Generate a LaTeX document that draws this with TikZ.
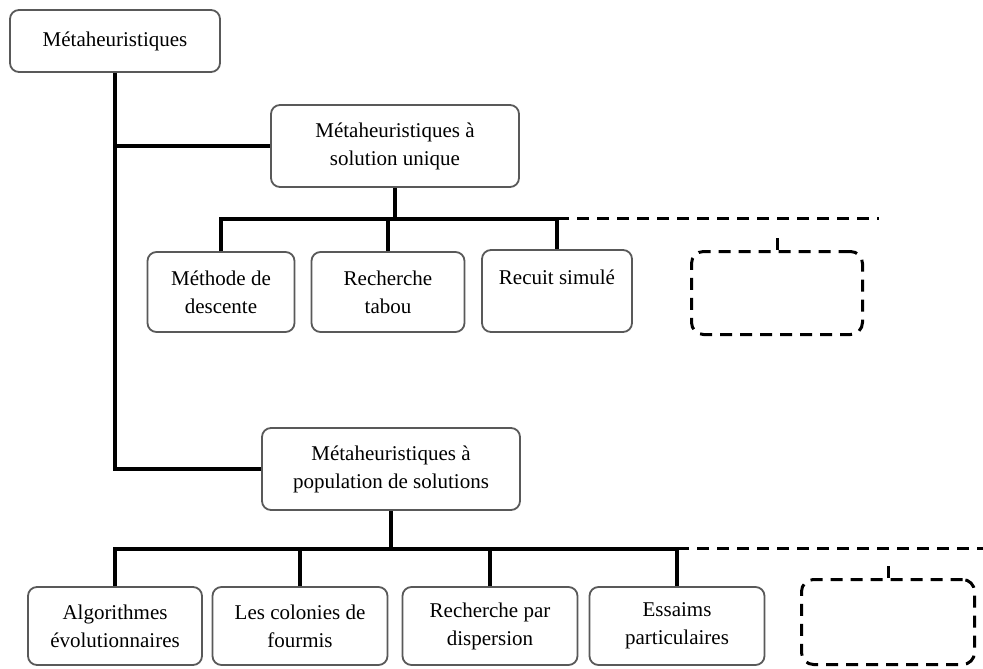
\documentclass[tikz,border=0pt]{standalone}
\usepackage{fontspec}
\setmainfont{Liberation Serif}
\usepackage{tikz}

\begin{document}
\begin{tikzpicture}[x=1pt,y=-1pt,
    box/.style={draw=black!65,line width=1.8pt,rounded corners=9pt,align=center,
      inner sep=0pt,font=\fontsize{21}{28}\selectfont},
    emptybox/.style={draw,line width=3pt,rounded corners=12pt,dash pattern=on 12pt off 8pt},
    link/.style={line width=3.2pt},
    dashedlink/.style={line width=3pt,dash pattern=on 12pt off 8pt}]
    \useasboundingbox (0,0) rectangle (983,669);

    \node (meta) at (115,41) [box,minimum width=210pt,minimum height=62pt] {Métaheuristiques};
    \node (sol) at (395,146) [box,minimum width=248pt,minimum height=82pt] {Métaheuristiques à\\solution unique};
    \node (pop) at (391,469) [box,minimum width=258pt,minimum height=82pt] {Métaheuristiques à\\population de solutions};

    \node (desc) at (221,292) [box,minimum width=147pt,minimum height=80pt] {Méthode de\\descente};
    \node (tabou) at (388,292) [box,minimum width=153pt,minimum height=80pt] {Recherche\\tabou};
    \node (recuit) at (557,291) [box,minimum width=150pt,minimum height=82pt] {Recuit simulé\\\mbox{}};
    \node (videA) at (777,293) [emptybox,minimum width=171pt,minimum height=83pt] {};

    \node (algo) at (115,626) [box,minimum width=174pt,minimum height=78pt] {Algorithmes\\évolutionnaires};
    \node (fourmis) at (300,626) [box,minimum width=175pt,minimum height=78pt] {Les colonies de\\fourmis};
    \node (disp) at (490,626) [box,minimum width=175pt,minimum height=78pt] {Recherche par\\dispersion};
    \node (essaims) at (677,626) [box,minimum width=175pt,minimum height=78pt] {Essaims\\particulaires};
    \node (videB) at (888,622) [emptybox,minimum width=173pt,minimum height=85pt] {};

    % tronc principal
    \draw [link] (meta.south) -- (meta.south |- pop.west) -- (pop.west);
    \draw [link] (meta.south |- sol.west) -- (sol.west);

    % solution unique
    \draw [link] (sol.south) -- ++(0,31) coordinate (busA);
    \draw [link] (desc.north) |- (busA) -| (recuit.north);
    \draw [link] (tabou.north) -- (tabou.north |- busA);
    \draw [dashedlink] (recuit.north |- busA) -- ++(322,0);
    \draw [dashedlink] (videA.north) -- ++(0,-18);

    % population de solutions
    \draw [link] (pop.south) -- ++(0,38) coordinate (busB);
    \draw [link] (algo.north) |- (busB) -| (essaims.north);
    \draw [link] (fourmis.north) -- (fourmis.north |- busB);
    \draw [link] (disp.north) -- (disp.north |- busB);
    \draw [dashedlink] (essaims.north |- busB) -- ++(306,0);
    \draw [dashedlink] (videB.north) -- ++(0,-17);
\end{tikzpicture}
\end{document}
